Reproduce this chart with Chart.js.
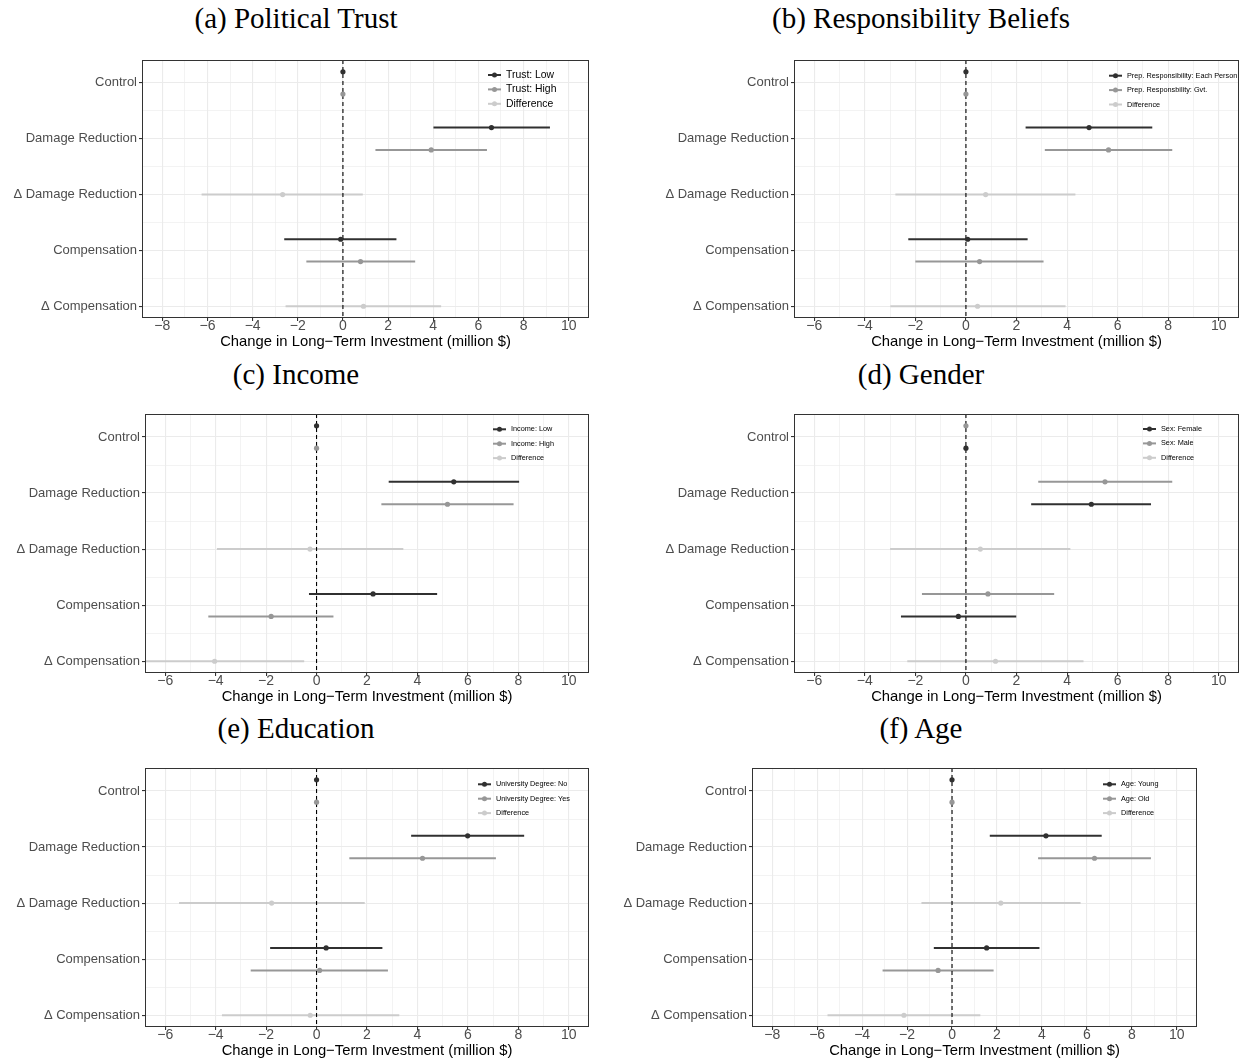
<!DOCTYPE html>
<html>
<head>
<meta charset="utf-8">
<script src="https://cdn.jsdelivr.net/npm/chart.js@4.4.0/dist/chart.umd.min.js"></script>
<style>
  body { margin: 0; background: #fff; width: 1242px; height: 1061px; position: relative; overflow: hidden; }
  canvas { position: absolute; }
  .title {
    position: absolute; width: 600px; text-align: center; line-height: 30px;
    font-family: "Liberation Serif", serif; font-size: 29px; color: #000;
  }
</style>
</head>
<body>
<div class="title" style="left:-4px;top:3px">(a) Political Trust</div>
<div class="title" style="left:621px;top:3px">(b) Responsibility Beliefs</div>
<div class="title" style="left:-4px;top:359px">(c) Income</div>
<div class="title" style="left:621px;top:359px">(d) Gender</div>
<div class="title" style="left:-4px;top:713px">(e) Education</div>
<div class="title" style="left:621px;top:713px">(f) Age</div>

<script>
// categorias del eje y (de arriba hacia abajo)
const categories = ["Control", "Damage Reduction", "\u0394 Damage Reduction", "Compensation", "\u0394 Compensation"];
const categoryPos = [1, 2, 3, 4, 5];
const yMinorTicks = [1.5, 2.5, 3.5, 4.5];
const xTicksWide = [-8, -6, -4, -2, 0, 2, 4, 6, 8, 10];
const xTicksNarrow = [-6, -4, -2, 0, 2, 4, 6, 8, 10];

// cada fila: [estimación, límite inferior, límite superior]
const trustLow = [[0, 0, 0], [6.58, 4.01, 9.17], null, [-0.10, -2.60, 2.37], null];
const trustHigh = [[0, 0, 0], [3.91, 1.44, 6.38], null, [0.78, -1.62, 3.20], null];
const trustDiff = [null, null, [-2.67, -6.26, 0.88], null, [0.91, -2.54, 4.35]];
const trustLabels = ["Trust: Low", "Trust: High", "Difference"];

const respPerson = [[0, 0, 0], [4.87, 2.36, 7.37], null, [0.07, -2.28, 2.44], null];
const respGvt = [[0, 0, 0], [5.64, 3.12, 8.16], null, [0.54, -2.00, 3.07], null];
const respDiff = [null, null, [0.78, -2.79, 4.33], null, [0.46, -2.99, 3.94]];
const respLabels = ["Prep. Responsibility: Each Person", "Prep. Responsbility: Gvt.", "Difference"];

const incomeLow = [[0, 0, 0], [5.44, 2.86, 8.03], null, [2.24, -0.30, 4.78], null];
const incomeHigh = [[0, 0, 0], [5.19, 2.57, 7.81], null, [-1.80, -4.29, 0.67], null];
const incomeDiff = [null, null, [-0.26, -3.95, 3.44], null, [-4.04, -7.59, -0.49]];
const incomeLabels = ["Income: Low", "Income: High", "Difference"];

const sexFemale = [[0, 0, 0], [4.96, 2.58, 7.32], null, [-0.30, -2.57, 1.99], null];
const sexMale = [[0, 0, 0], [5.50, 2.86, 8.16], null, [0.87, -1.74, 3.49], null];
const sexDiff = [null, null, [0.57, -3.00, 4.13], null, [1.17, -2.32, 4.65]];
const sexLabels = ["Sex: Female", "Sex: Male", "Difference"];

const degreeNo = [[0, 0, 0], [5.99, 3.75, 8.23], null, [0.38, -1.84, 2.61], null];
const degreeYes = [[0, 0, 0], [4.20, 1.30, 7.11], null, [0.12, -2.61, 2.83], null];
const degreeDiff = [null, null, [-1.78, -5.45, 1.91], null, [-0.25, -3.75, 3.28]];
const degreeLabels = ["University Degree: No", "University Degree: Yes", "Difference"];

const ageYoung = [[0, 0, 0], [4.18, 1.68, 6.66], null, [1.54, -0.81, 3.89], null];
const ageOld = [[0, 0, 0], [6.34, 3.83, 8.85], null, [-0.62, -3.09, 1.85], null];
const ageDiff = [null, null, [2.17, -1.36, 5.72], null, [-2.14, -5.54, 1.26]];
const ageLabels = ["Age: Young", "Age: Old", "Difference"];

const seriesColors = ["#303030", "#979797", "#cccccc"];
const FONT = "'Liberation Sans', Arial, sans-serif";

// area = [left, top, right, bottom] del panel en la página
const panels = [
  { series: [trustLow, trustHigh, trustDiff], labels: trustLabels, dodge: [-0.2, 0.2, 0],
    area: [142, 60, 589, 318], canvasLeft: 0, xRange: [-8.9, 10.9], xTicks: xTicksWide,
    legend: { x: 488, y: 75, size: 10.4 } },
  { series: [respPerson, respGvt, respDiff], labels: respLabels, dodge: [-0.2, 0.2, 0],
    area: [794, 60, 1239, 318], canvasLeft: 620, xRange: [-6.8, 10.8], xTicks: xTicksNarrow,
    legend: { x: 1109, y: 75.7, size: 7.3 } },
  { series: [incomeLow, incomeHigh, incomeDiff], labels: incomeLabels, dodge: [-0.2, 0.2, 0],
    area: [145, 414, 589, 673], canvasLeft: 0, xRange: [-6.8, 10.8], xTicks: xTicksNarrow,
    legend: { x: 493, y: 429.3, size: 7.3 } },
  { series: [sexFemale, sexMale, sexDiff], labels: sexLabels, dodge: [0.2, -0.2, 0],
    area: [794, 414, 1239, 673], canvasLeft: 620, xRange: [-6.8, 10.8], xTicks: xTicksNarrow,
    legend: { x: 1143, y: 429, size: 7.3 } },
  { series: [degreeNo, degreeYes, degreeDiff], labels: degreeLabels, dodge: [-0.2, 0.2, 0],
    area: [145, 768, 589, 1027], canvasLeft: 0, xRange: [-6.8, 10.8], xTicks: xTicksNarrow,
    legend: { x: 478, y: 784.3, size: 7.3 } },
  { series: [ageYoung, ageOld, ageDiff], labels: ageLabels, dodge: [-0.2, 0.2, 0],
    area: [752, 768, 1197, 1027], canvasLeft: 610, xRange: [-8.9, 10.9], xTicks: xTicksWide,
    legend: { x: 1103, y: 784.3, size: 7.3 } },
];

const Y_MIN = 0.59, Y_MAX = 5.21;
const X_AXIS_H = 33;

function fmtTick(v) {
  return v < 0 ? "\u2212" + Math.abs(v) : String(v);
}

function buildPanel(p) {
  const [L, T, R, B] = p.area;
  const canvasTop = T - 10;
  const width = R + 10 - p.canvasLeft;
  const height = B + X_AXIS_H - canvasTop;

  const canvas = document.createElement("canvas");
  canvas.width = width;
  canvas.height = height;
  canvas.style.left = p.canvasLeft + "px";
  canvas.style.top = canvasTop + "px";
  document.body.appendChild(canvas);

  const datasets = [];
  p.series.forEach((rows, s) => {
    rows.forEach((r, i) => {
      if (!r) return;
      const y = categoryPos[i] + p.dodge[s];
      // barra de intervalo
      datasets.push({
        type: "line",
        data: [{ x: r[1], y: y }, { x: r[2], y: y }],
        borderColor: seriesColors[s],
        borderWidth: 2,
        pointRadius: 0,
        showLine: true,
        fill: false,
        order: 3,
      });
      // punto
      datasets.push({
        type: "scatter",
        data: [{ x: r[0], y: y }],
        pointRadius: 2.6,
        pointBackgroundColor: seriesColors[s],
        pointBorderWidth: 0,
        order: 1,
      });
    });
  });
  // línea de referencia en cero
  datasets.push({
    type: "line",
    data: [{ x: 0, y: Y_MIN }, { x: 0, y: Y_MAX }],
    borderColor: "#000",
    borderWidth: 1.1,
    borderDash: [4, 3],
    pointRadius: 0,
    showLine: true,
    order: 2,
  });

  const frame = {
    id: "frame",
    afterDatasetsDraw(chart) {
      const a = chart.chartArea;
      const ctx = chart.ctx;
      ctx.save();
      ctx.strokeStyle = "#333";
      ctx.lineWidth = 1;
      ctx.strokeRect(Math.round(a.left) + 0.5, Math.round(a.top) + 0.5,
        Math.round(a.right - a.left) - 1, Math.round(a.bottom - a.top) - 1);
      ctx.restore();
    },
  };

  const legend = {
    id: "legendBox",
    afterDraw(chart) {
      const ctx = chart.ctx;
      const lx = p.legend.x - p.canvasLeft;
      ctx.save();
      p.labels.forEach((label, i) => {
        const ly = p.legend.y - canvasTop + i * 14.4;
        ctx.strokeStyle = seriesColors[i];
        ctx.lineWidth = 2;
        ctx.beginPath();
        ctx.moveTo(lx, ly);
        ctx.lineTo(lx + 13, ly);
        ctx.stroke();
        ctx.fillStyle = seriesColors[i];
        ctx.beginPath();
        ctx.arc(lx + 6.5, ly, 2.5, 0, Math.PI * 2);
        ctx.fill();
        ctx.fillStyle = "#000";
        ctx.font = p.legend.size + "px " + FONT;
        ctx.textBaseline = "middle";
        ctx.fillText(label, lx + 18, ly);
      });
      ctx.restore();
    },
  };

  const xAll = [];
  for (let v = p.xTicks[0]; v <= p.xTicks[p.xTicks.length - 1]; v++) xAll.push(v);
  const yAll = categoryPos.concat(yMinorTicks).sort((a, b) => a - b);

  new Chart(canvas, {
    type: "scatter",
    data: { datasets },
    options: {
      responsive: false,
      animation: false,
      events: [],
      layout: { padding: { top: 10, right: 10, bottom: 0, left: 0 } },
      plugins: { legend: { display: false }, tooltip: { enabled: false } },
      scales: {
        x: {
          type: "linear",
          min: p.xRange[0],
          max: p.xRange[1],
          afterBuildTicks: (axis) => { axis.ticks = xAll.map((v) => ({ value: v })); },
          afterFit: (axis) => { axis.height = X_AXIS_H; },
          ticks: {
            autoSkip: false,
            maxRotation: 0,
            padding: -3,
            color: "#4d4d4d",
            font: { family: FONT, size: 14 },
            callback: (v) => (p.xTicks.includes(v) ? fmtTick(v) : ""),
          },
          grid: {
            color: "#ebebeb",
            lineWidth: (c) => (c.tick && p.xTicks.includes(c.tick.value) ? 1.1 : 0.6),
            tickLength: 3,
            tickColor: (c) => (c.tick && p.xTicks.includes(c.tick.value) ? "#333" : "rgba(0,0,0,0)"),
          },
          border: { display: false },
          title: {
            display: true,
            text: "Change in Long\u2212Term Investment (million $)",
            color: "#000",
            font: { family: FONT, size: 14.8 },
            padding: 0,
          },
        },
        y: {
          type: "linear",
          reverse: true,
          min: Y_MIN,
          max: Y_MAX,
          afterBuildTicks: (axis) => { axis.ticks = yAll.map((v) => ({ value: v })); },
          afterFit: (axis) => { axis.width = L - p.canvasLeft; },
          ticks: {
            autoSkip: false,
            padding: 2,
            color: "#4d4d4d",
            font: { family: FONT, size: 13 },
            callback: (v) => (Number.isInteger(v) ? categories[v - 1] : ""),
          },
          grid: {
            color: "#ebebeb",
            lineWidth: (c) => (c.tick && Number.isInteger(c.tick.value) ? 1.1 : 0.6),
            tickLength: 3,
            tickColor: (c) => (c.tick && Number.isInteger(c.tick.value) ? "#333" : "rgba(0,0,0,0)"),
          },
          border: { display: false },
        },
      },
    },
    plugins: [frame, legend],
  });
}

panels.forEach(buildPanel);
</script>
</body>
</html>
